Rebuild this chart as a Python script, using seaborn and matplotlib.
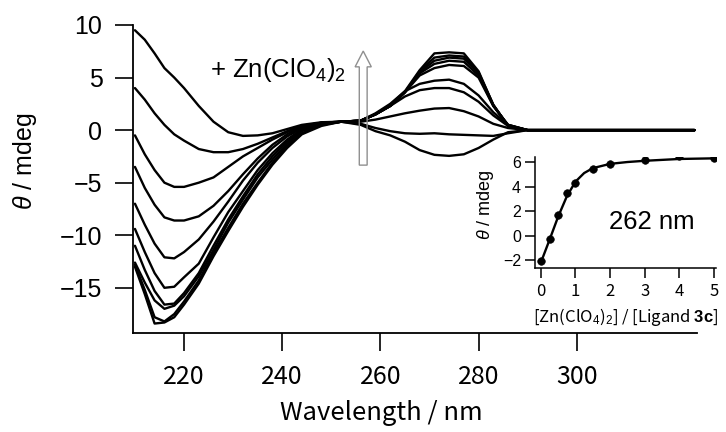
import numpy as np
import pandas as pd
import matplotlib
matplotlib.use("Agg")
import matplotlib.pyplot as plt
import seaborn as sns

# ---------------- data ----------------
wavelength = [210, 212, 214, 216, 218, 220, 223, 226, 229, 232, 235, 238, 241, 244, 248,
              252, 256, 259, 262, 265, 268, 271, 274, 277, 280, 283, 286, 290, 300, 324]

c1 = [9.5, 8.6, 7.3, 5.9, 5.0, 4.0, 2.3, 0.8, -0.2, -0.55, -0.5, -0.3, 0.1, 0.5, 0.75,
      0.8, 0.5, -0.1, -0.5, -1.1, -1.9, -2.35, -2.45, -2.3, -1.7, -0.9, -0.2, 0.0, 0.0, 0.0]
c2 = [4.0, 2.9, 1.6, 0.5, -0.4, -1.0, -1.8, -2.1, -2.1, -1.8, -1.3, -0.7, -0.1, 0.4, 0.7,
      0.8, 0.6, 0.2, -0.1, -0.3, -0.35, -0.3, -0.4, -0.45, -0.5, -0.55, -0.3, 0.0, 0.0, 0.0]
c3 = [-0.5, -2.3, -3.8, -5.0, -5.4, -5.4, -5.0, -4.5, -3.5, -2.5, -1.7, -0.9, -0.2, 0.4, 0.7,
      0.8, 0.8, 1.0, 1.3, 1.6, 1.85, 2.05, 2.1, 1.8, 1.3, 0.6, 0.2, 0.0, 0.0, 0.0]
c4 = [-3.5, -5.5, -7.1, -8.3, -8.6, -8.6, -8.2, -7.2, -5.8, -4.2, -2.7, -1.4, -0.4, 0.3, 0.7,
      0.8, 0.9, 1.5, 2.3, 3.2, 3.8, 4.0, 4.0, 3.6, 2.7, 1.4, 0.4, 0.0, 0.0, 0.0]
c5 = [-7.0, -9.0, -10.8, -12.1, -12.2, -11.6, -10.4, -8.7, -6.8, -4.8, -3.1, -1.7, -0.6, 0.2, 0.6,
      0.8, 0.9, 1.6, 2.5, 3.7, 4.4, 4.7, 4.8, 4.4, 3.3, 1.7, 0.5, 0.0, 0.0, 0.0]
c6 = [-9.4, -11.6, -13.6, -15.0, -14.9, -14.0, -12.7, -10.2, -7.8, -5.8, -3.8, -2.2, -0.9, 0.1, 0.6,
      0.8, 0.9, 1.5, 2.3, 3.6, 5.2, 5.9, 6.2, 6.1, 5.0, 2.3, 0.5, 0.0, 0.0, 0.0]
c7 = [-11.0, -13.3, -15.3, -16.6, -16.5, -15.5, -13.6, -11.0, -8.5, -6.3, -4.2, -2.5, -1.1, 0.0, 0.6,
      0.8, 0.9, 1.5, 2.3, 3.6, 5.4, 6.3, 6.6, 6.5, 5.2, 2.3, 0.5, 0.0, 0.0, 0.0]
c8 = [-12.6, -14.5, -16.2, -17.0, -16.7, -15.8, -13.9, -11.4, -8.8, -6.6, -4.5, -2.8, -1.3, -0.1, 0.5,
      0.8, 0.9, 1.5, 2.3, 3.6, 5.5, 6.6, 6.9, 6.8, 5.4, 2.4, 0.4, 0.0, 0.0, 0.0]
c9 = [-13.0, -15.6, -18.4, -18.3, -17.8, -16.6, -14.6, -12.0, -9.6, -7.3, -5.2, -3.3, -1.7, -0.4, 0.4,
      0.8, 0.9, 1.5, 2.3, 3.6, 5.6, 6.9, 7.1, 7.0, 5.5, 2.4, 0.4, 0.0, 0.0, 0.0]
c10 = [-12.8, -15.2, -17.8, -18.2, -17.5, -16.3, -14.3, -11.7, -9.3, -7.0, -5.0, -3.1, -1.5, -0.3, 0.5,
       0.8, 0.9, 1.5, 2.4, 3.7, 5.7, 7.3, 7.4, 7.3, 5.6, 2.4, 0.4, 0.0, 0.0, 0.0]
spectra = [c1, c2, c3, c4, c5, c6, c7, c8, c9, c10]

xticks_main = [220, 240, 260, 280, 300]
yticks_main = [-15, -10, -5, 0, 5, 10]

# inset titration data (262 nm)
ratio = [0, 0.25, 0.5, 0.75, 1.0, 1.5, 2, 3, 4, 5]
theta262 = [-2.1, -0.3, 1.7, 3.5, 4.25, 5.45, 5.8, 6.2, 6.5, 6.35]
fit_x = [0, 0.25, 0.5, 0.75, 1.0, 1.25, 1.5, 2.0, 2.5, 3.0, 4.0, 5.0]
fit_y = [-2.2, -0.35, 1.55, 3.2, 4.4, 5.1, 5.5, 5.85, 6.0, 6.1, 6.25, 6.3]
xticks_inset = [0, 1, 2, 3, 4, 5]
yticks_inset = [-2, 0, 2, 4, 6]

# ---------------- style ----------------
sns.set_style("ticks")
plt.rcParams['font.family'] = ['Liberation Sans', 'DejaVu Sans']
plt.rcParams['mathtext.fontset'] = 'custom'
plt.rcParams['mathtext.rm'] = 'Liberation Sans'
plt.rcParams['mathtext.it'] = 'Liberation Sans:italic'
plt.rcParams['mathtext.bf'] = 'Liberation Sans:bold'
for k in ['text.color', 'axes.labelcolor', 'xtick.color', 'ytick.color', 'axes.edgecolor']:
    plt.rcParams[k] = 'black'
NARROW = ['Noto Sans CJK JP', 'DejaVu Sans']

W, H = 726, 432
fig = plt.figure(figsize=(W / 100, H / 100), dpi=100)

# ---------------- main axes ----------------
ax = fig.add_axes([133 / W, 1 - 333 / H, 564 / W, 308 / H])
rows = []
for i, s in enumerate(spectra):
    for w, v in zip(wavelength, s):
        rows.append((i, w, v))
df = pd.DataFrame(rows, columns=['curve', 'wl', 'cd'])
sns.lineplot(data=df, x='wl', y='cd', units='curve', estimator=None, color='black',
             lw=1.7, sort=False, ax=ax, legend=False)

ax.set_xlim(209.6, 324.5)
ax.set_ylim(-19.3, 10.0)
ax.set_xticks(xticks_main)
ax.set_yticks(yticks_main)
ax.tick_params(axis='both', direction='out', length=13, width=1.2, colors='black')
ax.tick_params(axis='y', labelsize=18, pad=9)
ax.tick_params(axis='x', labelsize=18, pad=9)
for lab in ax.get_xticklabels():
    lab.set_family(NARROW)
for sp in ['top', 'right']:
    ax.spines[sp].set_visible(False)
for sp in ['left', 'bottom']:
    ax.spines[sp].set_linewidth(1.3)
    ax.spines[sp].set_color('black')

ax.set_xlabel('Wavelength / nm', fontsize=18.5, family=NARROW)
ax.xaxis.set_label_coords((381 - 133) / 564, (333 - 413) / 308)
ax.xaxis.label.set_va('center')
ax.set_ylabel(r'$\theta$ / mdeg', fontsize=18)
ax.yaxis.set_label_coords((25 - 133) / 564, (333 - 161) / 308)
ax.yaxis.label.set_va('center')

ax.text((210 - 133) / 564, (333 - 77) / 308, r'+ Zn(ClO$_4$)$_2$', transform=ax.transAxes,
        fontsize=18.5, ha='left', va='baseline')
ax.arrow(256.5, -3.33, 0, 10.85, width=1.6, head_width=3.3, head_length=1.5,
         length_includes_head=True, fc='none', ec='#8f8f8f', lw=1.0, zorder=5)

# ---------------- inset ----------------
axin = fig.add_axes([535 / W, 1 - 268 / H, 181 / W, 111 / H])
axin.patch.set_alpha(0)
sns.lineplot(x=fit_x, y=fit_y, color='black', lw=1.7, ax=axin, legend=False)
sns.scatterplot(x=ratio, y=theta262, color='black', s=30, edgecolor='black', ax=axin,
                legend=False, zorder=3)
axin.set_xlim(-0.17, 5.06)
axin.set_ylim(-2.65, 6.41)
axin.set_xticks(xticks_inset)
axin.set_yticks(yticks_inset)
axin.tick_params(axis='both', direction='out', length=7, width=1.1, colors='black')
axin.tick_params(axis='y', labelsize=11.5, pad=3)
axin.tick_params(axis='x', labelsize=12, pad=4)
for lab in axin.get_xticklabels():
    lab.set_family(NARROW)
for sp in ['top', 'right']:
    axin.spines[sp].set_visible(False)
for sp in ['left', 'bottom']:
    axin.spines[sp].set_linewidth(1.1)
    axin.spines[sp].set_color('black')
axin.set_xlabel(r'[Zn(ClO$_4$)$_2$] / [Ligand $\mathbf{3c}$]', fontsize=12, family=NARROW)
axin.xaxis.set_label_coords((626 - 535) / 181, (268 - 317) / 111)
axin.xaxis.label.set_va('center')
axin.set_ylabel(r'$\theta$ / mdeg', fontsize=13)
axin.yaxis.set_label_coords((485 - 535) / 181, (268 - 205) / 111)
axin.yaxis.label.set_va('center')
axin.text((652 - 535) / 181, (268 - 222) / 111, '262 nm', transform=axin.transAxes,
          fontsize=18.5, ha='center', va='center')

fig.savefig('out.png', dpi=100)
